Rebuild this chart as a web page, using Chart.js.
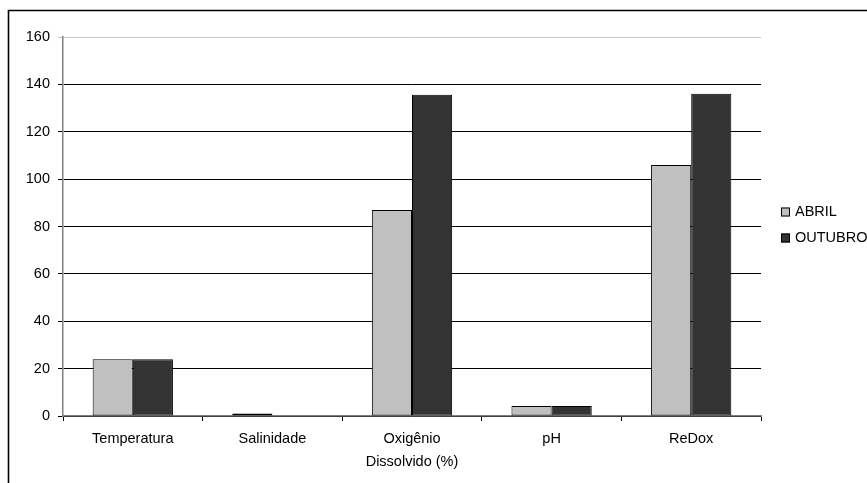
<!DOCTYPE html>
<html><head><meta charset="utf-8">
<script src="https://cdn.jsdelivr.net/npm/chart.js@4/dist/chart.umd.min.js"></script>
<style>html,body{margin:0;padding:0;background:#fff;overflow:hidden}#wrap{position:absolute;left:0;top:0;width:867px;height:483px}</style>
</head><body><div id="wrap"><canvas id="c" width="867" height="483"></canvas></div>
<script>
const categories = ['Temperatura', 'Salinidade', ['Oxigênio', 'Dissolvido (%)'], 'pH', 'ReDox'];
const abril = [24, 1.1, 87, 4.2, 106];
const outubro = [24, 0, 135.6, 4.2, 136];
const seriesNames = ['ABRIL', 'OUTUBRO'];
const yTicks = [0, 20, 40, 60, 80, 100, 120, 140, 160];

const FONT = 'Arial, "Liberation Sans", sans-serif';

const framePlugin = {
  id: 'frame',
  beforeDraw(chart) {
    const ctx = chart.ctx;
    ctx.save();
    ctx.fillStyle = '#fff';
    ctx.fillRect(0, 0, chart.width, chart.height);
    ctx.strokeStyle = '#000';
    ctx.lineWidth = 1.6;
    ctx.beginPath();
    ctx.moveTo(8.5, 490);
    ctx.lineTo(8.5, 10.5);
    ctx.lineTo(880, 10.5);
    ctx.stroke();
    ctx.restore();
  },
  afterDraw(chart) {
    const ctx = chart.ctx;
    ctx.save();
    ctx.font = '14.5px ' + FONT;
    ctx.textBaseline = 'middle';
    const rows = [212, 238];
    chart.data.datasets.forEach((ds, i) => {
      const y = rows[i];
      ctx.fillStyle = ds.backgroundColor;
      ctx.fillRect(781, y - 4.5, 9, 9);
      ctx.strokeStyle = '#000';
      ctx.lineWidth = 1;
      ctx.strokeRect(781.5, y - 4, 8, 8);
      ctx.fillStyle = '#000';
      ctx.fillText(ds.label, 795, y);
    });
    ctx.restore();
  }
};

new Chart(document.getElementById('c'), {
  type: 'bar',
  data: {
    labels: categories,
    datasets: [
      { label: seriesNames[0], data: abril, backgroundColor: '#c0c0c0', borderColor: '#000', borderWidth: 1, borderSkipped: false },
      { label: seriesNames[1], data: outubro, backgroundColor: '#333333', borderColor: '#000', borderWidth: 1, borderSkipped: false }
    ]
  },
  options: {
    responsive: false,
    animation: false,
    devicePixelRatio: 1,
    layout: { padding: { left: 0, right: 106, top: 37, bottom: 0 } },
    plugins: { legend: { display: false }, tooltip: { enabled: false } },
    datasets: { bar: { categoryPercentage: 0.575, barPercentage: 1.0 } },
    scales: {
      x: {
        afterFit(s) { s.height = 67; },
        grid: { display: true, drawOnChartArea: false, drawTicks: true, tickLength: 5, color: '#000', offset: true },
        border: { display: true, color: '#808080', width: 1.5 },
        ticks: { color: '#000', font: { family: FONT, size: 14.5, lineHeight: 1.55 }, padding: 7, maxRotation: 0, autoSkip: false }
      },
      y: {
        min: 0, max: 160,
        afterFit(s) { s.width = 63; },
        afterBuildTicks(s) { s.ticks = yTicks.map(v => ({ value: v })); },
        grid: {
          color: ctx => (ctx.tick && ctx.tick.value === 160) ? '#c8c8c8' : '#000',
          lineWidth: 1, drawTicks: true, tickLength: 5
        },
        border: { display: true, color: '#808080', width: 1.5 },
        ticks: { color: '#000', font: { family: FONT, size: 14.5 }, padding: 8 }
      }
    }
  },
  plugins: [framePlugin]
});
</script></body></html>
